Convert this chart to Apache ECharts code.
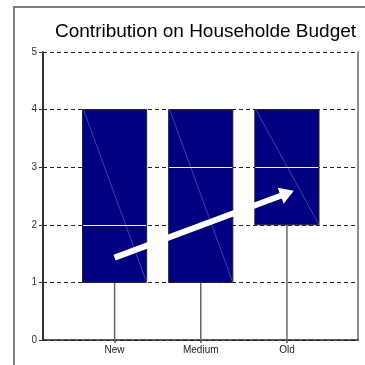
<!DOCTYPE html>
<html>
<head>
<meta charset="utf-8">
<script src="https://cdn.jsdelivr.net/npm/echarts@6/dist/echarts.min.js"></script>
<style>
  html, body { margin: 0; padding: 0; background: #fff; }
  #chart { width: 365px; height: 365px; }
</style>
</head>
<body>
<div id="chart"></div>
<script>
// Age groups and their budget-contribution spread (low whisker, lower edge, median, upper edge)
const categories = ['New', 'Medium', 'Old'];
const lowValues = [0, 0, 0];
const lowerValues = [1, 1, 2];
const medianValues = [2, 3, 3];
const upperValues = [4, 4, 4];
const yTickLabels = ['0', '1', '2', '3', '4', '5'];
// Trend arrow drawn over the boxes: [category position, value]
const trendStart = [0, 1.43];
const trendEnd = [2.08, 2.59];

const FONT = "'Liberation Sans', Arial, sans-serif";

const boxData = categories.map((c, i) => [i, lowValues[i], lowerValues[i], medianValues[i], upperValues[i]]);

function renderBox(params, api) {
  const x = api.value(0);
  const pLow = api.coord([x, api.value(1)]);
  const pLower = api.coord([x, api.value(2)]);
  const pMed = api.coord([x, api.value(3)]);
  const pUpper = api.coord([x, api.value(4)]);
  const w = api.size([1, 0])[0] * 0.745;
  const left = pLower[0] - w / 2;
  const right = pLower[0] + w / 2;
  const my = Math.round(pMed[1]) + 0.5;
  return {
    type: 'group',
    children: [
      { type: 'line', shape: { x1: pLow[0], y1: pLow[1], x2: pLower[0], y2: pLower[1] },
        style: { stroke: '#666', lineWidth: 1.5 } },
      { type: 'rect', shape: { x: left, y: pUpper[1], width: w, height: pLower[1] - pUpper[1] },
        style: { fill: '#000080', stroke: '#222', lineWidth: 1 } },
      { type: 'line', shape: { x1: left + 1, y1: pUpper[1], x2: right, y2: pLower[1] },
        style: { stroke: 'rgba(140,140,230,0.75)', lineWidth: 0.6 } },
      { type: 'line', shape: { x1: left + 0.5, y1: my, x2: right - 0.5, y2: my },
        style: { stroke: '#f4f4ff', lineWidth: 1 } }
    ]
  };
}

function renderArrow(params, api) {
  const a = api.coord([trendStart[0], trendStart[1]]);
  const b = api.coord([trendEnd[0], trendEnd[1]]);
  const dx = b[0] - a[0], dy = b[1] - a[1];
  const len = Math.sqrt(dx * dx + dy * dy);
  const ux = dx / len, uy = dy / len;
  const nx = -uy, ny = ux;
  const shaft = 3, headLen = 14, headHalf = 8.5;
  const bx = b[0] - ux * headLen, by = b[1] - uy * headLen;
  const pts = [
    [a[0] + nx * shaft, a[1] + ny * shaft],
    [bx + nx * shaft, by + ny * shaft],
    [bx + nx * headHalf, by + ny * headHalf],
    [b[0], b[1]],
    [bx - nx * headHalf, by - ny * headHalf],
    [bx - nx * shaft, by - ny * shaft],
    [a[0] - nx * shaft, a[1] - ny * shaft]
  ];
  return { type: 'polygon', shape: { points: pts }, style: { fill: '#fff' } };
}

const chart = echarts.init(document.getElementById('chart'), null, { renderer: 'canvas' });
chart.setOption({
  animation: false,
  backgroundColor: '#fff',
  title: {
    text: 'Contribution on Householde Budget',
    left: 55, top: 22, padding: 0,
    textStyle: { fontFamily: FONT, fontSize: 19, fontWeight: 'normal', color: '#000' }
  },
  graphic: [
    { type: 'rect', shape: { x: 14, y: 7, width: 420, height: 420 },
      style: { fill: null, stroke: '#555', lineWidth: 1.5 }, z: 0 }
  ],
  grid: [
    { left: 43, right: 7, top: 52, bottom: 25 },
    { left: 71.5, right: 35, top: 52, bottom: 25 }
  ],
  xAxis: [
    { gridIndex: 0, type: 'value', min: 0, max: 1, show: true,
      axisLine: { show: true, onZero: false, lineStyle: { color: '#222', width: 1.5 } },
      axisTick: { show: false }, axisLabel: { show: false }, splitLine: { show: false } },
    { gridIndex: 1, type: 'category', data: categories, boundaryGap: true,
      axisLine: { show: false },
      axisTick: { show: true, alignWithLabel: true, length: 3, lineStyle: { color: '#555', width: 1.5 } },
      axisLabel: { fontFamily: FONT, fontSize: 10, color: '#222', margin: 5 },
      splitLine: { show: false } },
    { gridIndex: 1, type: 'value', min: -0.5, max: 2.5, show: false }
  ],
  yAxis: [
    { gridIndex: 0, type: 'value', min: 0, max: 5, interval: 1,
      axisLine: { show: true, lineStyle: { color: '#333', width: 2 } },
      axisTick: { show: true, length: 4, lineStyle: { color: '#333' } },
      axisLabel: { fontFamily: FONT, fontSize: 10, color: '#333', margin: 6,
        formatter: v => yTickLabels[Math.round(v)] },
      splitLine: { show: true, lineStyle: { color: '#222', type: [4, 3], width: 1 } } },
    { gridIndex: 0, type: 'value', min: 0, max: 5, position: 'right',
      axisLine: { show: true, lineStyle: { color: '#666', width: 1.5 } },
      axisTick: { show: false }, axisLabel: { show: false }, splitLine: { show: false } },
    { gridIndex: 1, type: 'value', min: 0, max: 5, show: false },
    { gridIndex: 1, type: 'value', min: 0, max: 5, show: false }
  ],
  series: [
    { type: 'custom', xAxisIndex: 1, yAxisIndex: 2, data: boxData,
      encode: { x: 0, y: [1, 2, 3, 4] }, renderItem: renderBox, z: 3, clip: false },
    { type: 'custom', xAxisIndex: 2, yAxisIndex: 3, data: [[trendEnd[0], trendEnd[1]]],
      encode: { x: 0, y: 1 }, renderItem: renderArrow, z: 5, clip: false }
  ]
});
</script>
</body>
</html>
